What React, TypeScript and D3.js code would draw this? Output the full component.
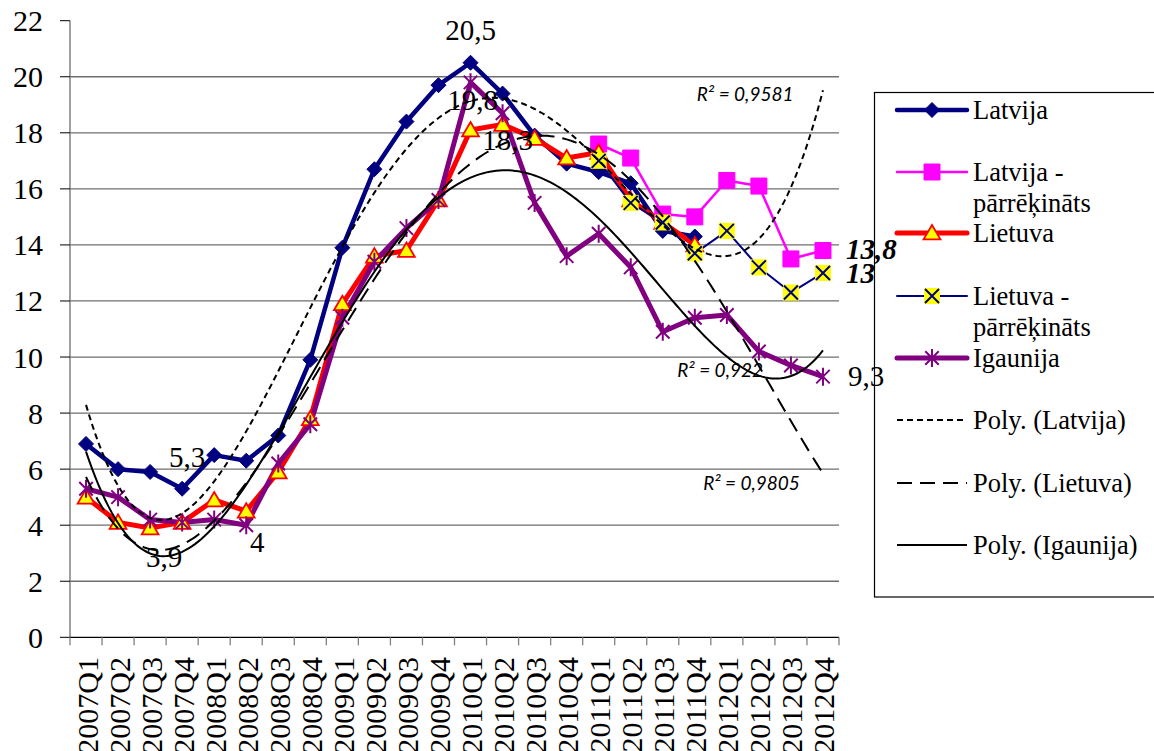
import React from 'react';
import * as d3 from 'd3';

const categories = [
  '2007Q1','2007Q2','2007Q3','2007Q4','2008Q1','2008Q2','2008Q3','2008Q4',
  '2009Q1','2009Q2','2009Q3','2009Q4','2010Q1','2010Q2','2010Q3','2010Q4',
  '2011Q1','2011Q2','2011Q3','2011Q4','2012Q1','2012Q2','2012Q3','2012Q4',
];
const latvija: (number | null)[] = [6.9,6.0,5.9,5.3,6.5,6.3,7.2,9.9,13.9,16.7,18.4,19.7,20.5,19.4,17.9,16.9,16.6,16.2,14.5,14.3,null,null,null,null];
const latvijaP: (number | null)[] = [null,null,null,null,null,null,null,null,null,null,null,null,null,null,null,null,17.6,17.1,15.1,15.0,16.3,16.1,13.5,13.8];
const lietuva: (number | null)[] = [5.0,4.1,3.9,4.1,4.9,4.5,5.9,7.8,11.9,13.6,13.8,15.6,18.1,18.3,17.8,17.1,17.3,15.6,14.8,14.0,null,null,null,null];
const lietuvaP: (number | null)[] = [null,null,null,null,null,null,null,null,null,null,null,null,null,null,null,null,17.0,15.5,14.8,13.7,14.5,13.2,12.3,13.0];
const igaunija: (number | null)[] = [5.3,5.0,4.2,4.1,4.2,4.0,6.2,7.6,11.4,13.4,14.6,15.6,19.8,18.7,15.5,13.6,14.4,13.2,10.9,11.4,11.5,10.2,9.7,9.3];
const yTicks = [0,2,4,6,8,10,12,14,16,18,20,22];
const r2Texts = ['R² = 0,9581', 'R² = 0,9805', 'R² = 0,922'];

const W = 1154, H = 751;
const x = d3.scaleBand<string>().domain(categories).range([70, 839]);
const y = d3.scaleLinear().domain([0, 22]).range([637.3, 20.7]);
const bw = x.bandwidth();
const cx = (i: number) => (x(categories[i]) as number) + bw / 2;

function polyfit(ys: (number | null)[], deg: number) {
  const pts: [number, number][] = [];
  ys.forEach((v, i) => { if (v != null) pts.push([i + 1, v]); });
  const mean = d3.mean(pts, p => p[0]) as number;
  const sc = 10;
  const m = deg + 1;
  const A: number[][] = Array.from({ length: m }, () => new Array(m + 1).fill(0));
  for (const [px, py] of pts) {
    const t = (px - mean) / sc;
    for (let r = 0; r < m; r++) {
      for (let c = 0; c < m; c++) A[r][c] += Math.pow(t, r + c);
      A[r][m] += py * Math.pow(t, r);
    }
  }
  for (let col = 0; col < m; col++) {
    let piv = col;
    for (let r = col + 1; r < m; r++) if (Math.abs(A[r][col]) > Math.abs(A[piv][col])) piv = r;
    const tmp = A[col]; A[col] = A[piv]; A[piv] = tmp;
    for (let r = 0; r < m; r++) {
      if (r === col) continue;
      const f = A[r][col] / A[col][col];
      for (let c = col; c <= m; c++) A[r][c] -= f * A[col][c];
    }
  }
  const coef = A.map((row, i) => row[m] / row[i]);
  return (xv: number) => {
    const t = (xv - mean) / sc;
    let s = 0;
    for (let i = 0; i < m; i++) s += coef[i] * Math.pow(t, i);
    return s;
  };
}

const trendDefs = [
  { name: 'lv', data: latvija, deg: 4, dash: '6,4' },
  { name: 'lt', data: lietuva, deg: 4, dash: '15,8' },
  { name: 'ee', data: igaunija, deg: 4, dash: undefined as string | undefined },
];

const sampleXs = d3.range(1, 24.001, 0.1);
const lineGen = d3.line<[number, number]>().x(d => d[0]).y(d => d[1]);

function seriesPath(data: (number | null)[]) {
  return d3.line<number | null>()
    .defined(d => d != null)
    .x((_, i) => cx(i))
    .y(d => y(d as number))(data) as string;
}

const diamond = (s: number) => `M0,${-s}L${s},0L0,${s}L${-s},0Z`;
const square = (s: number) => `M${-s},${-s}H${s}V${s}H${-s}Z`;
const triangle = (s: number) => `M0,${-s}L${s * 1.05},${s * 0.8}L${-s * 1.05},${s * 0.8}Z`;
const xMark = (s: number) => `M${-s},${-s}L${s},${s}M${s},${-s}L${-s},${s}`;
const star = (s: number) => `M0,${-s}V${s}M${-s * 0.75},${-s * 0.75}L${s * 0.75},${s * 0.75}M${s * 0.75},${-s * 0.75}L${-s * 0.75},${s * 0.75}`;

function Marker({ kind, tx, ty }: { kind: string; tx: number; ty: number }) {
  const tr = `translate(${tx},${ty})`;
  if (kind === 'diamond') return <path transform={tr} d={diamond(7.5)} fill="#000080" stroke="#000080" strokeWidth={1} />;
  if (kind === 'square') return <path transform={tr} d={square(8)} fill="#FF00FF" stroke="#FF00FF" strokeWidth={1} />;
  if (kind === 'triangle') return <path transform={tr} d={triangle(8)} fill="#FFFF00" stroke="#FF0000" strokeWidth={1.8} />;
  if (kind === 'xsq') return (
    <g transform={tr}>
      <path d={square(8)} fill="#FFFF00" />
      <path d={xMark(7)} stroke="#000080" strokeWidth={2} fill="none" />
    </g>
  );
  return <path transform={tr} d={star(9)} stroke="#800080" strokeWidth={2} fill="none" />;
}

const seriesDefs = [
  { name: 'Latvija', data: latvija, color: '#000080', width: 4.5, marker: 'diamond' },
  { name: 'Latvija - pārrēķināts', data: latvijaP, color: '#FF00FF', width: 2.5, marker: 'square' },
  { name: 'Lietuva', data: lietuva, color: '#FF0000', width: 5, marker: 'triangle' },
  { name: 'Lietuva - pārrēķināts', data: lietuvaP, color: '#000080', width: 2, marker: 'xsq' },
  { name: 'Igaunija', data: igaunija, color: '#800080', width: 5, marker: 'star' },
];

const fmt = (v: number) => String(v).replace('.', ',');

const dataLabels = [
  { data: latvija, i: 12, dx: 0, dy: -33, anchor: 'middle', bold: false },
  { data: igaunija, i: 12, dx: 2, dy: 18, anchor: 'middle', bold: false },
  { data: lietuva, i: 13, dx: 5, dy: 16, anchor: 'middle', bold: false },
  { data: latvija, i: 3, dx: 5, dy: -32, anchor: 'middle', bold: false },
  { data: lietuva, i: 2, dx: 14, dy: 29, anchor: 'middle', bold: false },
  { data: igaunija, i: 5, dx: 11, dy: 17, anchor: 'middle', bold: false },
  { data: latvijaP, i: 23, dx: 23, dy: -2, anchor: 'start', bold: true },
  { data: lietuvaP, i: 23, dx: 23, dy: 0, anchor: 'start', bold: true },
  { data: igaunija, i: 23, dx: 25, dy: -1, anchor: 'start', bold: false },
];

const r2Pos = [
  { text: r2Texts[0], xi: 21.57, v: 19.4 },
  { text: r2Texts[1], xi: 21.77, v: 5.54 },
  { text: r2Texts[2], xi: 20.79, v: 9.57 },
];

const legendItems = [
  { lines: ['Latvija'], y: 110, type: 'series', s: 0 },
  { lines: ['Latvija -', 'pārrēķināts'], y: 172, type: 'series', s: 1 },
  { lines: ['Lietuva'], y: 233, type: 'series', s: 2 },
  { lines: ['Lietuva -', 'pārrēķināts'], y: 296, type: 'series', s: 3 },
  { lines: ['Igaunija'], y: 358, type: 'series', s: 4 },
  { lines: ['Poly. (Latvija)'], y: 420, type: 'trend', s: 0 },
  { lines: ['Poly. (Lietuva)'], y: 483, type: 'trend', s: 1 },
  { lines: ['Poly. (Igaunija)'], y: 545, type: 'trend', s: 2 },
];

const serif = { fontFamily: '"Liberation Serif", "Times New Roman", serif' };
const sansI = { fontFamily: 'Lato, "Open Sans", sans-serif', fontStyle: 'italic' as const };

export default function App() {
  const trends = trendDefs.map(t => {
    const f = polyfit(t.data, t.deg);
    const pts: [number, number][] = sampleXs.map(xv => [cx(0) + (xv - 1) * bw, y(f(xv))]);
    return { ...t, d: lineGen(pts) as string };
  });
  const [y0, y1] = y.range();
  return (
    <svg width={W} height={H} style={{ position: 'absolute', left: 0, top: 0, background: '#fff' }}>
      <rect x={0} y={0} width={W} height={H} fill="#fff" />
      {yTicks.filter(t => t > 0 && t < 22).map(t => (
        <line key={t} x1={70} x2={839} y1={y(t)} y2={y(t)} stroke="#6e6e6e" strokeWidth={1.3} />
      ))}
      <line x1={70} x2={70} y1={y1} y2={y0} stroke="#808080" strokeWidth={1.5} />
      {yTicks.map(t => (
        <g key={t}>
          <line x1={60} x2={70} y1={y(t)} y2={y(t)} stroke="#000" strokeWidth={1} />
          <text x={43} y={y(t)} textAnchor="end" dominantBaseline="central" style={{ ...serif, fontSize: 30 }}>{t}</text>
        </g>
      ))}
      <line x1={70} x2={839} y1={y0} y2={y0} stroke="#000" strokeWidth={1.3} />
      {d3.range(categories.length + 1).map(i => (
        <line key={i} x1={70 + i * bw} x2={70 + i * bw} y1={y0} y2={y0 + 8} stroke="#808080" strokeWidth={1.3} />
      ))}
      {categories.map((c, i) => (
        <text key={c} transform={`translate(${cx(i) + 1},${657}) rotate(-90)`} textAnchor="end" dominantBaseline="central" style={{ ...serif, fontSize: 30 }}>{c}</text>
      ))}
      {seriesDefs.map(s => (
        <path key={s.name} d={seriesPath(s.data)} fill="none" stroke={s.color} strokeWidth={s.width} strokeLinejoin="round" />
      ))}
      {seriesDefs.map(s => (
        <g key={s.name + 'm'}>
          {s.data.map((v, i) => v == null ? null : <Marker key={i} kind={s.marker} tx={cx(i)} ty={y(v)} />)}
        </g>
      ))}
      {trends.map(t => (
        <path key={t.name} d={t.d} fill="none" stroke="#000" strokeWidth={2} strokeDasharray={t.dash} />
      ))}
      {r2Pos.map((r, k) => (
        <text key={k} x={cx(0) + (r.xi - 1) * bw} y={y(r.v)} textAnchor="middle" dominantBaseline="central"
          style={{ ...sansI, fontSize: 19 }}>{r.text}</text>
      ))}
      <rect x={874.5} y={92.5} width={300} height={504.5} fill="#fff" stroke="#000" strokeWidth={1.2} />
      {legendItems.map((it, k) => {
        let sym: React.ReactNode;
        if (it.type === 'series') {
          const s = seriesDefs[it.s];
          sym = (
            <g>
              <line x1={897} x2={967} y1={it.y} y2={it.y} stroke={s.color} strokeWidth={s.width} strokeLinecap="round" />
              <Marker kind={s.marker} tx={932} ty={it.y} />
            </g>
          );
        } else {
          const t = trendDefs[it.s];
          sym = <line x1={897} x2={967} y1={it.y} y2={it.y} stroke="#000" strokeWidth={2} strokeDasharray={t.dash} />;
        }
        return (
          <g key={k}>
            {sym}
            {it.lines.map((ln, j) => (
              <text key={j} x={973} y={it.y + j * 31} dominantBaseline="central" style={{ ...serif, fontSize: 26.5 }}>{ln}</text>
            ))}
          </g>
        );
      })}
      {dataLabels.map((l, k) => {
        const v = l.data[l.i] as number;
        return (
          <text key={k} x={cx(l.i) + l.dx} y={y(v) + l.dy} textAnchor={l.anchor as any} dominantBaseline="central"
            style={{ ...serif, fontSize: 29, fontWeight: l.bold ? 'bold' : 'normal', fontStyle: l.bold ? 'italic' : 'normal' }}>
            {fmt(v)}
          </text>
        );
      })}
    </svg>
  );
}
